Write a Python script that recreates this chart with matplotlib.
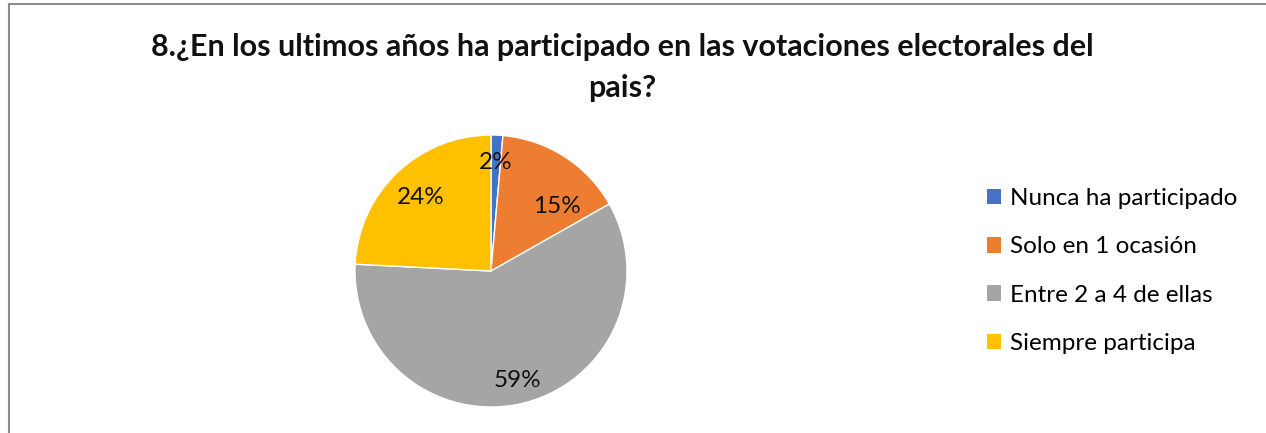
import matplotlib.pyplot as plt
import numpy as np
from matplotlib.lines import Line2D
from matplotlib.patches import Patch

categories = ['Nunca ha participado', 'Solo en 1 ocasión', 'Entre 2 a 4 de ellas', 'Siempre participa']
values = [1.4, 15.4, 59.0, 24.2]
pct_labels = ['2%', '15%', '59%', '24%']
colors = ['#4472C4', '#ED7D31', '#A5A5A5', '#FFC000']

plt.rcParams['font.family'] = ['Lato', 'DejaVu Sans']

W, H = 1266, 433
fig = plt.figure(figsize=(W / 100, H / 100), dpi=100)

# chart frame (only left and top edges visible)
fig.add_artist(Line2D([8.5 / W, 8.5 / W], [0, 1 - 4 / H], color='#8c8c8c', lw=1.5))
fig.add_artist(Line2D([8.5 / W, 1], [1 - 4 / H, 1 - 4 / H], color='#8c8c8c', lw=1.5))

cx, cy, r = 491, 271, 136
ax = fig.add_axes([(cx - r) / W, (H - cy - r) / H, 2 * r / W, 2 * r / H])
wedges, texts = ax.pie(values, colors=colors, startangle=90, counterclock=False,
                       wedgeprops=dict(edgecolor='white', linewidth=1))
ax.set_xlim(-1, 1)
ax.set_ylim(-1, 1)
ax.set_aspect('equal')

# label placement (fraction along wedge, radius)
place = [(0.5, 0.80), (0.27, 0.68), (0.5, 0.83), (0.5, 0.75)]
for w, lab, (f, rr) in zip(wedges, pct_labels, place):
    ang = np.deg2rad(w.theta1 + (w.theta2 - w.theta1) * f)
    ax.text(rr * np.cos(ang), rr * np.sin(ang), lab, ha='center', va='center',
            fontsize=17.5, color='#111111')

fig.text(622 / W, 1 - 47 / H, '8.¿En los ultimos años ha participado en las votaciones electorales del',
         ha='center', va='center', fontsize=22, fontweight='bold', color='#111111')
fig.text(622 / W, 1 - 88 / H, 'pais?', ha='center', va='center', fontsize=22,
         fontweight='bold', color='#111111')

handles = [Patch(facecolor=c, edgecolor='none') for c in colors]
fig.legend(handles, categories, loc='center left', bbox_to_anchor=(965 / W, 1 - 271 / H),
           frameon=False, fontsize=17.5, handlelength=0.6, handleheight=0.6,
           handletextpad=0.35, labelspacing=1.12)

fig.savefig('out.png', dpi=100)
